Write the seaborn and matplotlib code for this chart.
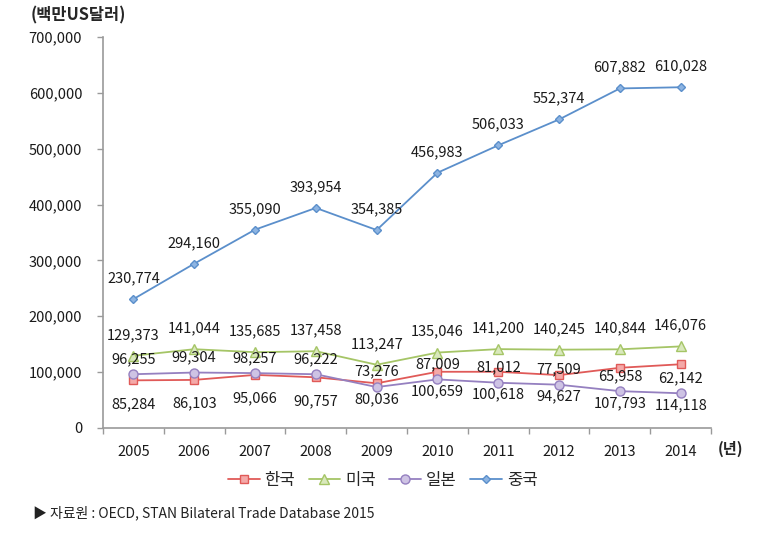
import numpy as np
import pandas as pd
import matplotlib
matplotlib.use('Agg')
import matplotlib.pyplot as plt
import seaborn as sns

# 데이터 (백만 US달러)
years = ['2005', '2006', '2007', '2008', '2009', '2010', '2011', '2012', '2013', '2014']
korea = [85284, 86103, 95066, 90757, 80036, 100659, 100618, 94627, 107793, 114118]
usa = [129373, 141044, 135685, 137458, 113247, 135046, 141200, 140245, 140844, 146076]
japan = [96255, 99304, 98257, 96222, 73276, 87009, 81012, 77509, 65958, 62142]
china = [230774, 294160, 355090, 393954, 354385, 456983, 506033, 552374, 607882, 610028]
series_names = ['한국', '미국', '일본', '중국']

sns.set_theme(style='white')
plt.rcParams['font.family'] = ['Noto Sans CJK KR', 'DejaVu Sans']

fig = plt.figure(figsize=(7.61, 5.36), dpi=100)
ax = fig.add_axes([0.1354, 0.2015, 0.799, 0.7295])

x = np.arange(len(years))
styles = {
    '한국': dict(color='#E05A58', marker='s', mfc='#F4A9A8', ms=6),
    '미국': dict(color='#A5C566', marker='^', mfc='#D9E8BC', ms=6.5),
    '일본': dict(color='#9580C0', marker='o', mfc='#CEC3E4', ms=6.5),
    '중국': dict(color='#5B8FCB', marker='D', mfc='#8DB4E2', ms=4.2),
}
values = {'한국': korea, '미국': usa, '일본': japan, '중국': china}

for name in series_names:
    st = styles[name]
    sns.lineplot(x=x, y=values[name], ax=ax, color=st['color'], marker=st['marker'],
                 markersize=st['ms'], markerfacecolor=st['mfc'],
                 markeredgecolor=st['color'], markeredgewidth=1.0, linewidth=1.3,
                 label=name)

# 데이터 레이블
lab_kw = dict(ha='center', va='center', fontsize=10.5, color='#1a1a1a',
              textcoords='offset points')
for i in x:
    ax.annotate(f'{china[i]:,}', (i, china[i]), xytext=(0, 15), **lab_kw)
    ax.annotate(f'{usa[i]:,}', (i, usa[i]), xytext=(0, 15), **lab_kw)
    ax.annotate(f'{japan[i]:,}', (i, japan[i]), xytext=(0, 11), **lab_kw)
    if korea[i] < japan[i]:
        ax.annotate(f'{korea[i]:,}', (i, korea[i]), xytext=(0, -17), **lab_kw)
    else:
        ax.annotate(f'{korea[i]:,}', (i, japan[i]), xytext=(0, -8.5), **lab_kw)

ax.set_xlim(-0.5, len(years) - 0.5)
ax.set_ylim(0, 700000)
ax.set_yticks(np.arange(0, 700001, 100000))
ax.set_yticklabels([f'{v:,}' for v in range(0, 700001, 100000)])
ax.set_xticks(x)
ax.set_xticklabels(years)
ax.set_xticks(np.arange(-0.5, len(years), 1), minor=True)
ax.tick_params(axis='x', which='major', length=0, pad=12, labelsize=10.5, labelcolor='#1a1a1a')
ax.tick_params(axis='x', which='minor', length=4, width=1, color='#9a9a9a', direction='out', bottom=True)
ax.tick_params(axis='y', length=4, width=1, color='#9a9a9a', direction='out', left=True,
               pad=11, labelsize=10.5, labelcolor='#1a1a1a')

sns.despine(ax=ax, top=True, right=True)
for sp in ['left', 'bottom']:
    ax.spines[sp].set_color('#9a9a9a')
    ax.spines[sp].set_linewidth(1.2)
ax.set_xlabel('')
ax.set_ylabel('')

ax.legend(loc='upper center', bbox_to_anchor=(0.46, -0.075), ncol=4, frameon=False,
          fontsize=12, handlelength=1.9, columnspacing=0.8, handletextpad=0.3)

fig.text(0.04, 0.972, '(백만US달러)', fontsize=11.8, fontweight='bold', va='center', ha='left')
fig.text(0.943, 0.163, '(년)', fontsize=11, fontweight='bold', va='center', ha='left')
fig.text(0.043, 0.043, '▶ 자료원 : OECD, STAN Bilateral Trade Database 2015', fontsize=10,
         va='center', ha='left', color='#222222')

fig.savefig('out.png', dpi=100)
